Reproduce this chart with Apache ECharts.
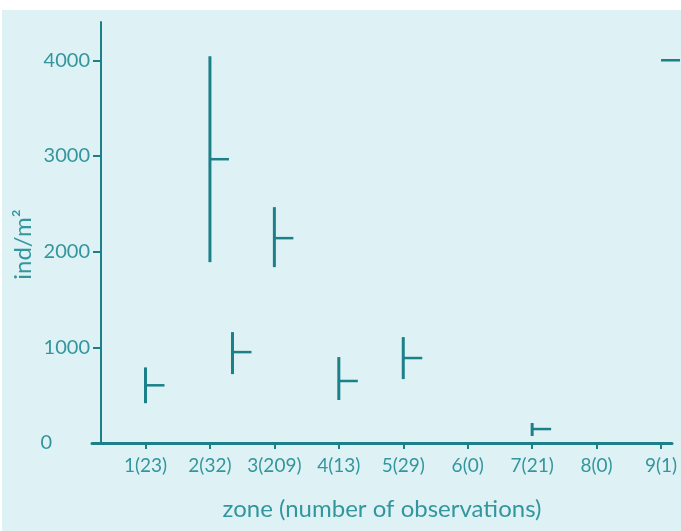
<!DOCTYPE html>
<html>
<head>
<meta charset="utf-8">
<script src="https://cdn.jsdelivr.net/npm/echarts@6/dist/echarts.min.js"></script>
<style>
html,body{margin:0;padding:0;background:#ffffff;}
#c{width:681px;height:531px;}
</style>
</head>
<body>
<div id="c"></div>
<script>
// Zones and number of observations (x tick labels)
var zoneNums = [1, 2, 3, 4, 5, 6, 7, 8, 9];
var obsCounts = [23, 32, 209, 13, 29, 0, 21, 0, 1];
// Range marks: x position (zone), low, high, mean (ind/m2)
var markX  = [1,   2,    2.35, 3,    4,   5,    7,   9];
var lows   = [416, 1890, 720,  1838, 449, 668,  73,  4000];
var highs  = [790, 4042, 1159, 2465, 898, 1107, 209, 4000];
var means  = [603, 2966, 950,  2141, 648, 888,  146, 4000];
// Y tick values
var yTicks = [0, 1000, 2000, 3000, 4000];

var teal = '#1b8088';
var textTeal = '#33969d';
var font = 'Lato';

var data = markX.map(function (x, i) { return [x, lows[i], highs[i], means[i]]; });
var labelMap = {};
zoneNums.forEach(function (z, i) { labelMap[z] = z + '(' + obsCounts[i] + ')'; });

var chart = echarts.init(document.getElementById('c'));
chart.setOption({
  backgroundColor: '#ffffff',
  animation: false,
  graphic: [{
    type: 'rect', z: -10, silent: true,
    shape: {x: 2, y: 10, width: 679, height: 521},
    style: {fill: '#def2f5'}
  }],
  grid: {left: 92, right: 9, top: 22, bottom: 88, containLabel: false, outerBoundsMode: 'none'},
  xAxis: {
    type: 'value',
    min: 0.17, max: 9.17,
    name: 'zone (number of observations)',
    nameLocation: 'middle',
    nameGap: 54,
    nameTextStyle: {color: textTeal, fontFamily: font, fontSize: 24},
    axisLine: {show: true, onZero: false, lineStyle: {color: teal, width: 3}},
    axisTick: {show: true, customValues: zoneNums, length: 6, lineStyle: {color: teal, width: 2}},
    axisLabel: {
      customValues: zoneNums,
      color: textTeal, fontFamily: font, fontSize: 19, margin: 13,
      formatter: function (v) { return labelMap[v] || ''; }
    },
    splitLine: {show: false}
  },
  yAxis: {
    type: 'value',
    min: 0, max: 4400, interval: 1000,
    offset: -9,
    name: 'ind/m²',
    nameLocation: 'middle',
    nameGap: 66,
    nameMoveOverlap: false,
    nameTextStyle: {color: textTeal, fontFamily: font, fontSize: 24, padding: [0, 24, 0, 0]},
    axisLine: {show: true, lineStyle: {color: teal, width: 2}},
    axisTick: {show: true, customValues: [1000, 2000, 3000, 4000], length: 8, lineStyle: {color: teal, width: 2}},
    axisLabel: {
      customValues: yTicks,
      color: textTeal, fontFamily: font, fontSize: 20, margin: 11,
      formatter: function (v) { return v === 0 ? '{z|0}' : String(v); },
      rich: {z: {color: textTeal, fontFamily: font, fontSize: 20, padding: [0, 38, 0, 0]}}
    },
    splitLine: {show: false}
  },
  series: [{
    type: 'custom',
    data: data,
    renderItem: function (params, api) {
      var x = api.value(0);
      var lo = api.coord([x, api.value(1)]);
      var hi = api.coord([x, api.value(2)]);
      var mn = api.coord([x, api.value(3)]);
      var children = [];
      if (Math.abs(hi[1] - lo[1]) > 1) {
        children.push({type: 'line', shape: {x1: lo[0], y1: lo[1], x2: hi[0], y2: hi[1]},
          style: {stroke: teal, lineWidth: 3}});
      }
      children.push({type: 'line', shape: {x1: mn[0], y1: mn[1], x2: mn[0] + 19, y2: mn[1]},
        style: {stroke: teal, lineWidth: 2.5}});
      return {type: 'group', children: children};
    }
  }]
});
</script>
</body>
</html>
